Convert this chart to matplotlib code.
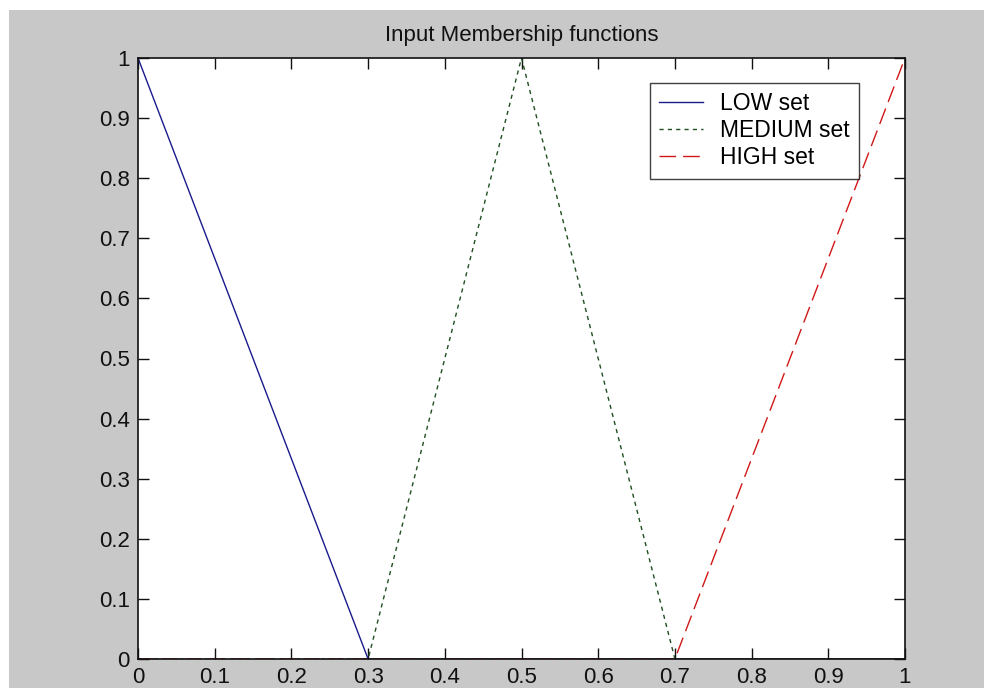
import matplotlib
matplotlib.use('Agg')
import matplotlib.pyplot as plt
from matplotlib.patches import Rectangle

plt.rcParams.update({
    'font.family': 'Liberation Sans',
    'font.size': 16,
})

# ── Data ────────────────────────────────────────────────────────────
x_pts = [0.0, 0.3, 0.5, 0.7, 1.0]
low_set = [1.0, 0.0, 0.0, 0.0, 0.0]
medium_set = [0.0, 0.0, 1.0, 0.0, 0.0]
high_set = [0.0, 0.0, 0.0, 0.0, 1.0]
xticks = [0, 0.1, 0.2, 0.3, 0.4, 0.5, 0.6, 0.7, 0.8, 0.9, 1]
yticks = [0, 0.1, 0.2, 0.3, 0.4, 0.5, 0.6, 0.7, 0.8, 0.9, 1]
tick_labels = ['0', '0.1', '0.2', '0.3', '0.4', '0.5', '0.6', '0.7', '0.8', '0.9', '1']

BG = '#c8c8c8'
W, H = 984, 688

fig = plt.figure(figsize=(W / 100, H / 100), dpi=100)
fig.patch.set_facecolor('white')
# grey MATLAB-style window area (white strip at top and left)
fig.patches.append(Rectangle((9 / W, 0), 1 - 9 / W, 1 - 10 / H,
                             transform=fig.transFigure, facecolor=BG,
                             edgecolor='none', zorder=-10))

ax = fig.add_axes([138 / W, 1 - 659 / H, (905 - 138) / W, (659 - 58) / H])
ax.set_zorder(5)
ax.set_facecolor('white')

ax.plot(x_pts, low_set, color='#1a1a8c', lw=1.0, label='LOW set')
ax.plot(x_pts, medium_set, color='#1f4f1f', lw=1.0, ls=(0, (3, 3)),
        label='MEDIUM set')
ax.plot(x_pts, high_set, color='#d01818', lw=1.0, ls=(0, (12, 5)),
        label='HIGH set')

ax.set_xlim(0, 1)
ax.set_ylim(0, 1)
ax.set_xticks(xticks)
ax.set_yticks(yticks)
ax.set_xticklabels(tick_labels)
ax.set_yticklabels(tick_labels)
ax.tick_params(direction='in', length=8, width=1, top=True, right=True,
               labelsize=16, pad=6, colors='#111111')
ax.tick_params(axis='x', pad=6)
for sp in ax.spines.values():
    sp.set_linewidth(1.2)
    sp.set_color('#111111')

ax.set_title('Input Membership functions', fontsize=16, pad=12,
             color='#111111')

leg = ax.legend(loc='upper right', bbox_to_anchor=((859 - 138) / (905 - 138),
                (659 - 83) / (659 - 58)),
                fontsize=16.5, frameon=True, fancybox=False, handlelength=1.9,
                handletextpad=0.75, borderpad=0.4, labelspacing=0.18,
                borderaxespad=0)
leg.get_frame().set_edgecolor('#111111')
leg.get_frame().set_linewidth(1.0)

fig.savefig('out.png', dpi=100, facecolor=fig.get_facecolor())
